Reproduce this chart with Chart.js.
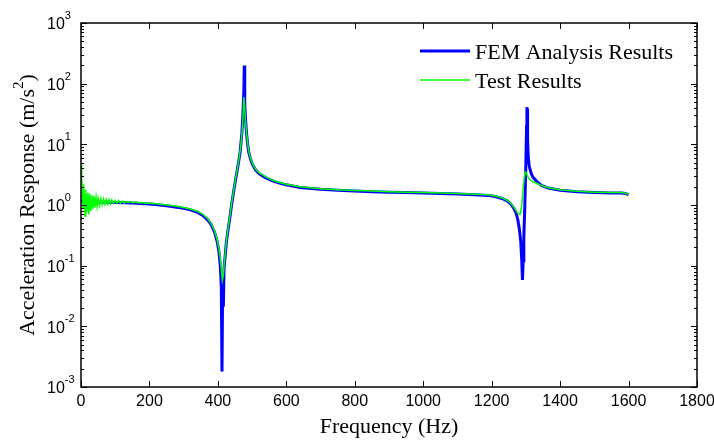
<!DOCTYPE html>
<html lang="en">
<head>
    <meta charset="UTF-8">
    <title>Acceleration Response</title>
    <script src="https://cdn.jsdelivr.net/npm/chart.js"></script>
    <style>
        body { margin: 0; background: #fff; }
        #wrap { width: 714px; height: 441px; }
    </style>
</head>
<body>
    <div id="wrap"><canvas id="frfChart" width="714" height="441"></canvas></div>

    <script>
        // FEM analysis curve (Hz, m/s^2)
        const femFreq = [0, 10, 25, 50, 75, 100, 125, 150, 175, 200, 225, 250, 275, 300, 320, 340, 355, 370, 380, 390,
            398, 403, 407, 410, 412, 414, 416, 418, 421, 425, 430, 435, 441, 447, 453, 459, 465, 470, 473, 476,
            477, 478, 479, 481, 483, 486, 490, 495, 500, 510, 520, 540, 560, 580, 600, 640, 700, 750, 800, 850,
            900, 950, 1000, 1050, 1100, 1150, 1190, 1210, 1230, 1245, 1255, 1265, 1272, 1277, 1281, 1285, 1288, 1290, 1292, 1294,
            1297, 1300, 1302, 1303, 1304, 1305, 1307, 1310, 1315, 1320, 1330, 1345, 1365, 1400, 1450, 1500, 1550, 1580, 1590, 1600];
        const femAcc = [1.15, 1.15, 1.14, 1.12, 1.11, 1.10, 1.09, 1.08, 1.06, 1.04, 1.01, 0.97, 0.93, 0.88, 0.83, 0.76, 0.68, 0.57, 0.48, 0.36,
            0.25, 0.17, 0.10, 0.045, 0.0018, 0.06, 0.021, 0.09, 0.14, 0.25, 0.40, 0.62, 1.1, 1.8, 2.9, 4.5, 7.5, 15, 30, 80,
            200, 120, 45, 25, 17, 11, 7.5, 5.8, 4.8, 3.8, 3.3, 2.8, 2.5, 2.3, 2.15, 1.95, 1.82, 1.75, 1.70, 1.66,
            1.63, 1.60, 1.58, 1.55, 1.52, 1.48, 1.44, 1.38, 1.28, 1.17, 1.05, 0.88, 0.72, 0.55, 0.40, 0.25, 0.12, 0.058, 0.12, 0.30,
            1.0, 5, 20, 41, 38, 12, 6, 4.3, 3.4, 2.9, 2.5, 2.1, 1.9, 1.75, 1.65, 1.60, 1.57, 1.58, 1.55, 1.48];

        // test measurement curve
        const testFreq = [0, 2, 4, 6, 8, 10, 12, 14, 17, 20, 23, 26, 29, 32, 35, 38, 41, 44, 47, 50,
            54, 58, 62, 66, 70, 74, 78, 82, 86, 90, 95, 100, 105, 110, 115, 120, 126, 132, 138, 144,
            150, 160, 170, 180, 190, 200, 225, 250, 275, 300, 320, 340, 355, 370, 380, 390, 398, 403, 407, 410,
            413, 416, 418, 421, 425, 430, 435, 441, 447, 453, 459, 465, 470, 473, 476, 478, 480, 483, 486, 490,
            495, 500, 510, 520, 540, 560, 580, 600, 640, 700, 750, 800, 850, 900, 950, 1000, 1050, 1100, 1150, 1190,
            1210, 1230, 1245, 1255, 1265, 1272, 1278, 1283, 1287, 1291, 1295, 1298, 1302, 1306, 1312, 1320, 1330, 1345, 1365, 1400,
            1450, 1500, 1550, 1580, 1590, 1600];
        const testAcc = [4.5, 3.0, 1.6, 0.9, 2.2, 1.0, 0.65, 1.8, 0.75, 1.6, 0.7, 1.55, 0.8, 1.45, 0.85, 1.4, 0.9, 1.35, 0.95, 1.3,
            0.98, 1.28, 1.0, 1.25, 1.02, 1.24, 1.03, 1.22, 1.05, 1.21, 1.06, 1.19, 1.07, 1.18, 1.08, 1.16, 1.08, 1.15, 1.09, 1.14,
            1.09, 1.12, 1.08, 1.10, 1.07, 1.07, 1.04, 1.0, 0.96, 0.91, 0.86, 0.79, 0.71, 0.60, 0.50, 0.38, 0.27, 0.19, 0.13, 0.09,
            0.058, 0.07, 0.10, 0.15, 0.26, 0.42, 0.65, 1.15, 1.85, 3.0, 4.6, 7.8, 14, 25, 60, 45, 28, 17, 11.5, 7.8,
            6.0, 5.0, 3.9, 3.4, 2.9, 2.55, 2.35, 2.2, 2.0, 1.86, 1.79, 1.74, 1.70, 1.66, 1.63, 1.61, 1.58, 1.55, 1.51, 1.47,
            1.41, 1.31, 1.20, 1.08, 0.92, 0.80, 0.72, 0.70, 0.90, 1.6, 2.8, 3.5, 3.3, 2.9, 2.6, 2.4, 2.3, 2.1, 1.92, 1.78,
            1.68, 1.63, 1.60, 1.60, 1.56, 1.50];

        const seriesNames = ['FEM Analysis Results', 'Test Results'];
        const xTicks = [0, 200, 400, 600, 800, 1000, 1200, 1400, 1600, 1800];
        const yExponents = [-3, -2, -1, 0, 1, 2, 3];

        const serif = '"Liberation Serif", "Times New Roman", serif';
        const sans = '"Liberation Sans", Arial, sans-serif';

        function toPoints(xs, ys) {
            return xs.map((x, i) => ({ x: x, y: ys[i] }));
        }

        // axes box, inward ticks, labels, titles and legend
        const axesPlugin = {
            id: 'axesPlugin',
            afterDraw(chart) {
                const ctx = chart.ctx;
                const a = chart.chartArea;
                const xs = chart.scales.x;
                const ys = chart.scales.y;
                ctx.save();
                ctx.strokeStyle = '#000';
                ctx.fillStyle = '#000';
                ctx.lineWidth = 1.5;
                ctx.strokeRect(a.left, a.top, a.right - a.left, a.bottom - a.top);

                ctx.lineWidth = 1;
                ctx.beginPath();
                xTicks.forEach(v => {
                    const px = Math.round(xs.getPixelForValue(v)) + 0.5;
                    ctx.moveTo(px, a.bottom); ctx.lineTo(px, a.bottom - 6);
                    ctx.moveTo(px, a.top); ctx.lineTo(px, a.top + 6);
                });
                yExponents.forEach(e => {
                    for (let m = 1; m <= 9; m++) {
                        const v = m * Math.pow(10, e);
                        if (v > 1000) break;
                        const py = Math.round(ys.getPixelForValue(v)) + 0.5;
                        const len = m === 1 ? 6 : 3;
                        ctx.moveTo(a.left, py); ctx.lineTo(a.left + len, py);
                        ctx.moveTo(a.right, py); ctx.lineTo(a.right - len, py);
                    }
                });
                ctx.stroke();

                // x tick labels
                ctx.font = '16px ' + sans;
                ctx.textAlign = 'center';
                ctx.textBaseline = 'middle';
                xTicks.forEach(v => {
                    ctx.fillText(String(v), xs.getPixelForValue(v), a.bottom + 15);
                });

                // y tick labels 10^n
                ctx.textAlign = 'left';
                yExponents.forEach(e => {
                    const py = ys.getPixelForValue(Math.pow(10, e));
                    ctx.font = '16px ' + sans;
                    ctx.fillText('10', 47, py + 2);
                    const w = ctx.measureText('10').width;
                    ctx.font = '11px ' + sans;
                    ctx.fillText(String(e), 47 + w, py - 7);
                });

                // axis titles
                ctx.font = '22px ' + serif;
                ctx.textAlign = 'center';
                ctx.fillText('Frequency (Hz)', (a.left + a.right) / 2, 427);

                ctx.save();
                ctx.translate(28, 205);
                ctx.rotate(-Math.PI / 2);
                const main = 'Acceleration Response (m/s';
                ctx.font = '22px ' + serif;
                const w1 = ctx.measureText(main).width;
                const w3 = ctx.measureText(')').width;
                ctx.font = '15px ' + serif;
                const w2 = ctx.measureText('2').width;
                const x0 = -(w1 + w2 + w3) / 2;
                ctx.textAlign = 'left';
                ctx.font = '22px ' + serif;
                ctx.fillText(main, x0, 0);
                ctx.font = '15px ' + serif;
                ctx.fillText('2', x0 + w1, -9);
                ctx.font = '22px ' + serif;
                ctx.fillText(')', x0 + w1 + w2, 0);
                ctx.restore();

                // legend inside plot
                const items = [
                    { label: seriesNames[0], ds: chart.data.datasets[0], y: 51 },
                    { label: seriesNames[1], ds: chart.data.datasets[1], y: 80 }
                ];
                ctx.textAlign = 'left';
                ctx.font = '22px ' + serif;
                items.forEach(it => {
                    ctx.strokeStyle = it.ds.borderColor;
                    ctx.lineWidth = it.ds.borderWidth;
                    ctx.beginPath();
                    ctx.moveTo(420, it.y); ctx.lineTo(470, it.y);
                    ctx.stroke();
                    ctx.fillStyle = '#000';
                    ctx.fillText(it.label, 475, it.y + 2);
                });
                ctx.restore();
            }
        };

        new Chart(document.getElementById('frfChart'), {
            type: 'line',
            data: {
                datasets: [{
                    label: seriesNames[0],
                    data: toPoints(femFreq, femAcc),
                    borderColor: '#0000ff',
                    borderWidth: 3,
                    pointRadius: 0,
                    tension: 0,
                    order: 2
                }, {
                    label: seriesNames[1],
                    data: toPoints(testFreq, testAcc),
                    borderColor: '#00ff00',
                    borderWidth: 1.5,
                    pointRadius: 0,
                    tension: 0,
                    order: 1
                }]
            },
            options: {
                responsive: false,
                animation: false,
                layout: { padding: { left: 81, top: 23, right: 17, bottom: 54 } },
                plugins: { legend: { display: false }, tooltip: { enabled: false } },
                scales: {
                    x: { type: 'linear', min: 0, max: 1800, display: false },
                    y: { type: 'logarithmic', min: 0.001, max: 1000, display: false }
                }
            },
            plugins: [axesPlugin]
        });
    </script>
</body>
</html>
